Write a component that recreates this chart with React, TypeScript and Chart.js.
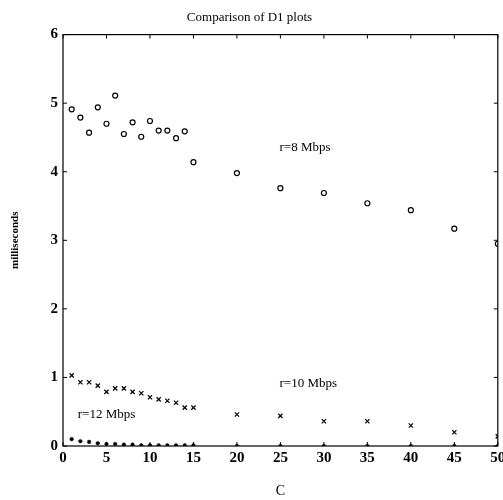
import React, { useEffect, useRef } from "react";
import { Chart, registerables } from "chart.js";

Chart.register(...registerables);

const cValues = [1, 2, 3, 4, 5, 6, 7, 8, 9, 10, 11, 12, 13, 14, 15, 20, 25, 30, 35, 40, 45, 50];
const r8 = [4.91, 4.79, 4.57, 4.94, 4.7, 5.11, 4.55, 4.72, 4.51, 4.74, 4.6, 4.6, 4.49, 4.59, 4.14, 3.98, 3.76, 3.69, 3.54, 3.44, 3.17, 2.95];
const r10 = [1.03, 0.93, 0.93, 0.88, 0.79, 0.84, 0.84, 0.79, 0.77, 0.71, 0.68, 0.66, 0.63, 0.56, 0.56, 0.46, 0.44, 0.36, 0.36, 0.3, 0.2, 0.14];
const r12 = [0.1, 0.07, 0.06, 0.04, 0.03, 0.03, 0.02, 0.02, 0.01, 0.01, 0.01, 0.01, 0.01, 0.01, 0.01, 0, 0, 0, 0, 0, 0, 0];
const labels = [
  { text: "r=8 Mbps", x: 24.9, y: 4.35 },
  { text: "r=10 Mbps", x: 24.9, y: 0.91 },
  { text: "r=12 Mbps", x: 1.7, y: 0.46 },
];
const xTicks = [0, 5, 10, 15, 20, 25, 30, 35, 40, 45, 50];
const yTicks = [0, 1, 2, 3, 4, 5, 6];

const SERIF = "'Liberation Serif', 'DejaVu Serif', serif";

const boxPlugin = {
  id: "boxPlugin",
  afterDraw(chart: any) {
    const { ctx, chartArea: a, scales } = chart;
    const xs = scales.x;
    const ys = scales.y;
    ctx.save();
    ctx.strokeStyle = "#000";
    ctx.lineWidth = 1.2;
    ctx.strokeRect(a.left, a.top, a.right - a.left, a.bottom - a.top);
    ctx.lineWidth = 1;
    const t = 4;
    ctx.beginPath();
    xTicks.forEach((v) => {
      const px = xs.getPixelForValue(v);
      ctx.moveTo(px, a.bottom);
      ctx.lineTo(px, a.bottom - t);
      ctx.moveTo(px, a.top);
      ctx.lineTo(px, a.top + t);
    });
    yTicks.forEach((v) => {
      const py = ys.getPixelForValue(v);
      ctx.moveTo(a.left, py);
      ctx.lineTo(a.left + t, py);
      ctx.moveTo(a.right, py);
      ctx.lineTo(a.right - t, py);
    });
    ctx.stroke();
    ctx.fillStyle = "#000";
    ctx.font = `13px ${SERIF}`;
    ctx.textAlign = "left";
    ctx.textBaseline = "middle";
    labels.forEach((l) => {
      ctx.fillText(l.text, xs.getPixelForValue(l.x), ys.getPixelForValue(l.y));
    });
    ctx.restore();
  },
};

function toPoints(ys: number[]) {
  return cValues.map((x, i) => ({ x, y: ys[i] }));
}

export default function App() {
  const ref = useRef<HTMLCanvasElement | null>(null);
  useEffect(() => {
    if (!ref.current) return;
    const chart = new Chart(ref.current, {
      type: "scatter",
      data: {
        datasets: [
          {
            label: "r=8 Mbps",
            data: toPoints(r8),
            pointStyle: "circle",
            pointRadius: 2.5,
            borderColor: "#000",
            backgroundColor: "rgba(0,0,0,0)",
            borderWidth: 1.2,
          },
          {
            label: "r=10 Mbps",
            data: toPoints(r10),
            pointStyle: "crossRot",
            pointRadius: 3,
            borderColor: "#000",
            backgroundColor: "#000",
            borderWidth: 1.2,
          },
          {
            label: "r=12 Mbps",
            data: toPoints(r12),
            pointStyle: "circle",
            pointRadius: 1.8,
            borderColor: "#000",
            backgroundColor: "#000",
            borderWidth: 0.5,
          },
        ],
      },
      options: {
        animation: false,
        responsive: false,
        maintainAspectRatio: false,
        layout: { padding: { left: 0, right: 4, top: 0, bottom: 0 } },
        plugins: {
          legend: { display: false },
          tooltip: { enabled: false },
          title: {
            display: true,
            text: "Comparison of D1 plots",
            color: "#000",
            font: { family: SERIF, size: 13, weight: "normal" },
            padding: { top: 10, bottom: 9 },
          },
        },
        scales: {
          x: {
            type: "linear",
            min: 0,
            max: 50,
            afterBuildTicks: (s: any) => {
              s.ticks = xTicks.map((v) => ({ value: v }));
            },
            afterFit: (s: any) => {
              s.paddingRight = 0;
              s.paddingLeft = 0;
              s.height = 54;
            },
            grid: { display: false, drawTicks: false },
            border: { display: false },
            ticks: {
              color: "#000",
              padding: 3,
              font: { family: SERIF, size: 15, weight: "bold" },
              maxRotation: 0,
            },
            title: {
              display: true,
              text: "C",
              color: "#000",
              font: { family: SERIF, size: 14, weight: "normal" },
              padding: { top: 14, bottom: 0 },
            },
          },
          y: {
            type: "linear",
            min: 0,
            max: 6,
            afterBuildTicks: (s: any) => {
              s.ticks = yTicks.map((v) => ({ value: v }));
            },
            afterFit: (s: any) => {
              s.width = 63;
              s.paddingTop = 0;
              s.paddingBottom = 0;
            },
            grid: { display: false, drawTicks: false },
            border: { display: false },
            ticks: {
              color: "#000",
              padding: 5,
              font: { family: SERIF, size: 15, weight: "bold" },
            },
            title: {
              display: true,
              text: "milliseconds",
              color: "#000",
              font: { family: SERIF, size: 11, weight: "bold" },
              padding: { top: 9, bottom: 14 },
            },
          },
        },
      },
      plugins: [boxPlugin],
    } as any);
    return () => chart.destroy();
  }, []);
  return (
    <div style={{ position: "fixed", left: 0, top: 0, width: 503, height: 500, background: "#fff" }}>
      <canvas ref={ref} width={503} height={500} style={{ width: 503, height: 500 }} />
    </div>
  );
}
